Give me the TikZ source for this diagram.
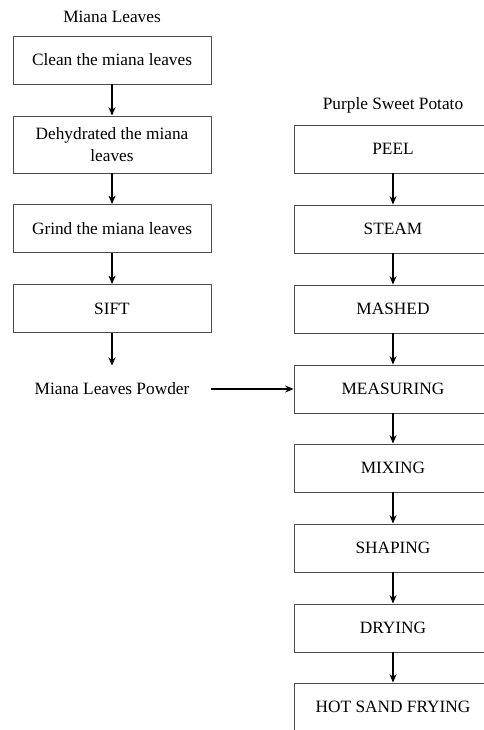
\documentclass[tikz,border=0pt]{standalone}
\usepackage{fontspec}
\setmainfont{Liberation Serif}
\usetikzlibrary{arrows.meta}
\begin{document}
\begin{tikzpicture}[x=0.025cm,y=-0.025cm,
    font=\fontsize{12.3}{16}\selectfont,
    stepbox/.style={draw=black!70,line width=0.6pt,minimum width=4.95cm,minimum height=1.2cm,align=center,inner sep=2pt},
    flow/.style={-{Stealth[length=6pt,width=5pt]},line width=0.9pt}]
      \useasboundingbox (0,0) rectangle (484,730);
      \clip (0,0) rectangle (484,730);
      % left column
      \node (leaves) at (112,17) {Miana Leaves};
      \node[stepbox] (clean) at (112,60) {Clean the miana leaves};
      \node[stepbox,minimum height=1.425cm] (dehyd) at (112,144.5) {Dehydrated the miana\\leaves};
      \node[stepbox] (grind) at (112,228.5) {Grind the miana leaves};
      \node[stepbox] (sift) at (112,308.5) {SIFT};
      \node[minimum width=4.95cm,minimum height=1.15cm] (powder) at (112,389) {Miana Leaves Powder};
      % right column
      \node (potato) at (393,105) {Purple Sweet Potato};
      \node[stepbox] (peel) at (393,149) {PEEL};
      \node[stepbox] (steam) at (393,229) {STEAM};
      \node[stepbox] (mashed) at (393,309) {MASHED};
      \node[stepbox] (measure) at (393,389) {MEASURING};
      \node[stepbox] (mixing) at (393,468) {MIXING};
      \node[stepbox] (shaping) at (393,548) {SHAPING};
      \node[stepbox] (drying) at (393,628) {DRYING};
      \node[stepbox] (frying) at (393,707) {HOT SAND FRYING};
      \begin{scope}[flow]
        \draw (clean) to (dehyd);
        \draw (dehyd) to (grind);
        \draw (grind) to (sift);
        \draw (sift) to (powder);
        \draw (powder.east) to (measure.west);
        \draw (peel) to (steam);
        \draw (steam) to (mashed);
        \draw (mashed) to (measure);
        \draw (measure) to (mixing);
        \draw (mixing) to (shaping);
        \draw (shaping) to (drying);
        \draw (drying) to (frying);
      \end{scope}
    \end{tikzpicture}
\end{document}
